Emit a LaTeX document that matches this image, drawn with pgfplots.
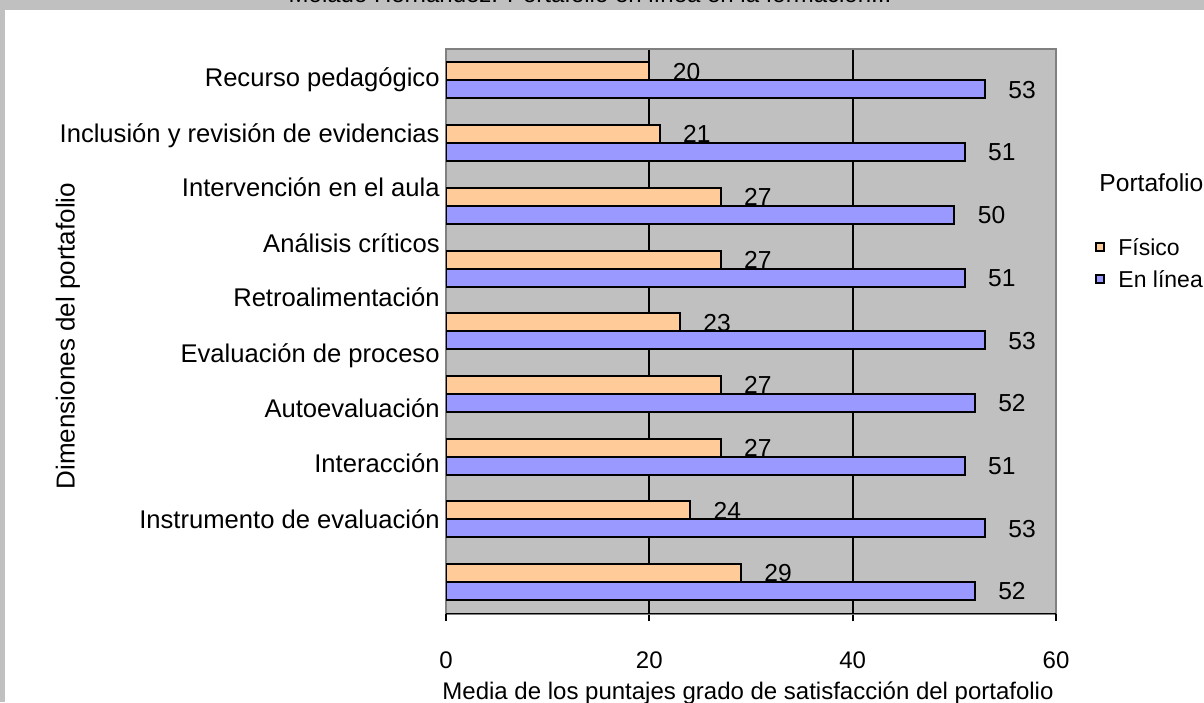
\documentclass[border=0pt]{standalone}
\usepackage{fontspec}
\setmainfont{Liberation Sans}
\usepackage{pgfplots}
\pgfplotsset{compat=1.18}
\definecolor{fis}{HTML}{FFCC99}
\definecolor{lin}{HTML}{9999FF}
\definecolor{bgg}{HTML}{C0C0C0}
\definecolor{frm}{HTML}{808080}
\begin{document}
\begin{tikzpicture}
\useasboundingbox (0,0) rectangle (602pt,351pt);
\clip (0,0) rectangle (602pt,351pt);
\begin{scope}[x=0.5pt,y=-0.5pt,yshift=351pt]
\fill[bgg] (0,0) rectangle (1204,702);
\fill[white] (5,10) rectangle (1210,710);
\node[anchor=base, inner sep=0pt, font=\fontsize{12}{14}\selectfont] at (590,3) {Molado Hernández. Portafolio en línea en la formación...};
\end{scope}
\begin{axis}[
  at={(223pt,44.25pt)}, anchor=south west,
  scale only axis, width=305pt, height=282.25pt,
  xbar, bar width=9pt,
  xmin=0, xmax=60, ymin=0.5, ymax=9.5,
  xtick={20,40}, extra x ticks={0,60}, extra x tick style={grid=none},
  xtick pos=bottom, tick align=outside, major tick length=3.5pt,
  xtick style={black, line width=1pt},
  xmajorgrids, grid style={black, line width=1pt},
  ytick={9.054,8.161,7.300,6.407,5.546,4.653,3.776,2.900,2.007},
  yticklabels={Recurso pedagógico, Inclusión y revisión de evidencias, Intervención en el aula, Análisis críticos, Retroalimentación, Evaluación de proceso, Autoevaluación, Interacción, Instrumento de evaluación},
  ytick style={draw=none},
  /pgf/number format/assume math mode=true,
  yticklabel style={font=\fontsize{12.8}{14}\selectfont, inner sep=0pt, text height=9.2pt, text depth=0pt, anchor=east, xshift=0.5pt},
  xticklabel style={font=\fontsize{12}{14}\selectfont, inner sep=0pt, text height=8.6pt, text depth=0pt, anchor=north, yshift=-15pt},
  axis background/.style={fill=bgg},
  axis line style={frm, line width=1pt},
  xlabel={Media de los puntajes grado de satisfacción del portafolio},
  xlabel style={at={(axis description cs:0.4951,-0.1515)}, anchor=base, inner sep=0pt, font=\fontsize{12}{14}\selectfont},
  ylabel={Dimensiones del portafolio},
  ylabel style={at={(axis description cs:-0.6197,0.4916)}, anchor=center, inner sep=0pt, font=\fontsize{13}{15}\selectfont},
  nodes near coords,
  every node near coord/.append style={font=\fontsize{12.3}{14}\selectfont, inner sep=0pt, anchor=west, xshift=11.3pt, text height=8.8pt, text depth=0pt, black},
  legend style={at={(axis description cs:1.0640,0.7768)}, anchor=north west, draw=none, fill=none, inner sep=0pt, row sep=8pt,
    nodes={inner sep=0pt, text height=8pt, text depth=0pt, font=\fontsize{11.5}{13}\selectfont, anchor=west},
    /tikz/every odd column/.append style={column sep=6.5pt}},
  legend cell align=left,
  legend image code/.code={\draw[#1, line width=1pt] (0pt,-2pt) rectangle (4pt,2pt);},
]
\addlegendimage{empty legend}
\addlegendentry{\hspace*{-9.5pt}\fontsize{12.3}{14}\selectfont Portafolio}
\addlegendimage{empty legend}
\addlegendentry{}
\addplot[fill=fis, draw=black, line width=1pt, bar shift=4.5pt] coordinates {(20,9) (21,8) (27,7) (27,6) (23,5) (27,4) (27,3) (24,2) (29,1)};
\addlegendentry{Físico}
\addplot[fill=lin, draw=black, line width=1pt, bar shift=-4.5pt] coordinates {(53,9) (51,8) (50,7) (51,6) (53,5) (52,4) (51,3) (53,2) (52,1)};
\addlegendentry{En línea}
\draw[black, line width=1pt] (rel axis cs:0,0) -- (rel axis cs:1,0);
\end{axis}
\end{tikzpicture}
\end{document}
